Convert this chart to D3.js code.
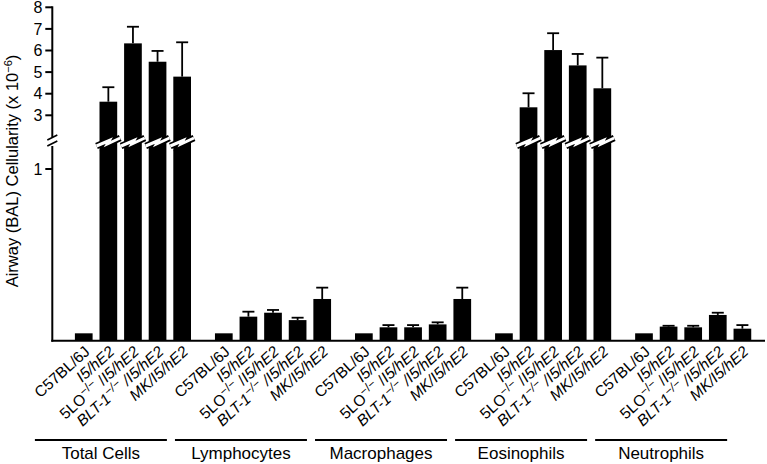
<!DOCTYPE html>
<html><head><meta charset="utf-8">
<script src="https://cdn.jsdelivr.net/npm/d3@7"></script>
<style>
body{margin:0;background:#fff}
svg{display:block}
text{font-family:"Liberation Sans",Arial,Helvetica,sans-serif;fill:#000}
</style>
</head><body>
<svg id="chart" width="767" height="464"></svg>
<script>
// ---- data ----
const groups = ["Total Cells","Lymphocytes","Macrophages","Eosinophils","Neutrophils"];
const strains = ["C57BL/6J","I5/hE2","5LO","BLT-1","MK"];
// mean values (x 10^-6) per group, in strain order
const totalCells  = [0.043, 3.63, 6.33, 5.48, 4.79];
const lymphocytes = [0.043, 0.140, 0.163, 0.120, 0.243];
const macrophages = [0.043, 0.078, 0.078, 0.095, 0.243];
const eosinophils = [0.043, 3.37, 6.02, 5.31, 4.25];
const neutrophils = [0.043, 0.082, 0.078, 0.150, 0.070];
// error (SEM) per group
const totalCellsErr  = [0, 0.67, 0.77, 0.50, 1.59];
const lymphocytesErr = [0, 0.029, 0.016, 0.014, 0.066];
const macrophagesErr = [0, 0.013, 0.013, 0.012, 0.066];
const eosinophilsErr = [0, 0.65, 0.78, 0.53, 1.42];
const neutrophilsErr = [0, 0.005, 0.009, 0.013, 0.021];
const upperTicks = [3,4,5,6,7,8];
const lowerTicks = [1];
const strainLabels = [
  [{t:"C57BL/6J"}],
  [{t:"I5/hE2",i:1}],
  [{t:"5LO"},{t:"\u2212/\u2212",sup:1},{t:" /"},{t:"I5/hE2",i:1}],
  [{t:"BLT-1",i:1},{t:"\u2212/\u2212",sup:1,i:1},{t:" /",i:1},{t:"I5/hE2",i:1}],
  [{t:"MK/I5/hE2",i:1}]
];

const meansByGroup = [totalCells, lymphocytes, macrophages, eosinophils, neutrophils];
const errByGroup = [totalCellsErr, lymphocytesErr, macrophagesErr, eosinophilsErr, neutrophilsErr];
const rows = [];
groups.forEach((g,gi)=>strains.forEach((s,si)=>rows.push({g, s, si, v:meansByGroup[gi][si], e:errByGroup[gi][si]})));

// ---- layout ----
const svg = d3.select("#chart");
const axisX = 52.3, baseY = 340.7, breakY = 141;
const groupStep = 140.06, barStep = 24.6, barW = 17.7, x0 = 74.9;

const xg = d3.scaleBand().domain(groups).range([x0, x0 + groupStep*groups.length]).paddingInner(0).paddingOuter(0);
const xs = d3.scaleBand().domain(strains).range([0, 4*barStep + barW]).paddingInner(1 - barW/barStep).paddingOuter(0);

const yLow = d3.scaleLinear().domain([0,1]).range([baseY, 169]);
const yHigh = d3.scaleLinear().domain([3,8]).range([115.3, 7.3]);
const y = v => v > 1.5 ? yHigh(v) : yLow(v);

// ---- bars ----
const bx = d => xg(d.g) + xs(d.s);
svg.append("g").selectAll("rect").data(rows).join("rect")
  .attr("x", bx).attr("width", xs.bandwidth())
  .attr("y", d => y(d.v)).attr("height", d => baseY - y(d.v))
  .attr("fill", "#000");

// error bars
const eb = svg.append("g").attr("stroke","#000").attr("stroke-width",1.8);
rows.filter(d=>d.e>0).forEach(d=>{
  const cx = bx(d) + xs.bandwidth()/2;
  eb.append("line").attr("x1",cx).attr("x2",cx).attr("y1",y(d.v)).attr("y2",y(d.v+d.e));
  eb.append("line").attr("x1",cx-6).attr("x2",cx+6).attr("y1",y(d.v+d.e)).attr("y2",y(d.v+d.e));
});

// breaks on tall bars
const brk = svg.append("g").attr("fill","none");
rows.filter(d=>d.v>1.5).forEach(d=>{
  const l = bx(d) - 3, r = bx(d) + xs.bandwidth() + 3, c = bx(d) + xs.bandwidth()/2;
  const pts = [[l, breakY+5],[c+1, breakY-0.5],[c-1, breakY+3],[r, breakY-3]];
  const line = d3.line();
  brk.append("path").attr("d", line(pts)).attr("stroke","#000").attr("stroke-width",6.5).attr("stroke-linejoin","miter");
  brk.append("path").attr("d", line(pts)).attr("stroke","#fff").attr("stroke-width",3).attr("stroke-linejoin","miter");
});

// ---- y axis ----
const ax = svg.append("g").attr("stroke","#000").attr("stroke-width",2).attr("fill","none");
ax.append("line").attr("x1",axisX).attr("x2",axisX).attr("y1",yHigh(8)-1).attr("y2",breakY-4);
ax.append("line").attr("x1",axisX).attr("x2",axisX).attr("y1",breakY+5).attr("y2",baseY+1);
ax.append("line").attr("x1",axisX-5).attr("x2",axisX+5).attr("y1",breakY-1).attr("y2",breakY-6).attr("stroke-width",1.6);
ax.append("line").attr("x1",axisX-5).attr("x2",axisX+5).attr("y1",breakY+5).attr("y2",breakY).attr("stroke-width",1.6);
// x baseline
ax.append("line").attr("x1",axisX-1).attr("x2",765).attr("y1",baseY).attr("y2",baseY);

const tickData = upperTicks.map(t=>({t, y:yHigh(t)})).concat(lowerTicks.map(t=>({t, y:yLow(t)})));
ax.selectAll("line.tick").data(tickData).join("line").attr("class","tick")
  .attr("x1",axisX-7).attr("x2",axisX).attr("y1",d=>d.y).attr("y2",d=>d.y);
svg.append("g").selectAll("text").data(tickData).join("text")
  .attr("x", axisX-10).attr("y", d=>d.y).attr("dy","0.36em")
  .attr("text-anchor","end").attr("font-size",16).text(d=>d.t);

// y title
const yt = svg.append("text").attr("transform","translate(18,171) rotate(-90)")
  .attr("text-anchor","middle").attr("font-size",16.5);
yt.append("tspan").text("Airway (BAL) Cellularity (x 10");
yt.append("tspan").attr("font-size",11).attr("dy",-6).text("\u22126");
yt.append("tspan").attr("dy",6).text(")");

// ---- x labels ----
const xl = svg.append("g");
rows.forEach(d=>{
  const cx = bx(d) + xs.bandwidth()/2;
  const t = xl.append("text").attr("transform",`translate(${cx+7},353) rotate(-42)`)
    .attr("text-anchor","end").attr("font-size",15.5);
  let shifted = false;
  strainLabels[d.si].forEach(p=>{
    const ts = t.append("tspan").text(p.t);
    if (p.i) ts.attr("font-style","italic");
    if (p.sup) { ts.attr("font-size",12).attr("dy",-5.5); shifted = true; }
    else if (shifted) { ts.attr("dy",5.5); shifted = false; }
  });
});

// group lines & labels
const gl = svg.append("g");
groups.forEach(g=>{
  const c = xg(g) + 26;
  gl.append("line").attr("x1",c-66).attr("x2",c+66).attr("y1",440).attr("y2",440)
    .attr("stroke","#000").attr("stroke-width",1.8);
  gl.append("text").attr("x",c).attr("y",458.5).attr("text-anchor","middle")
    .attr("font-size",17).text(g);
});
</script>
</body></html>
